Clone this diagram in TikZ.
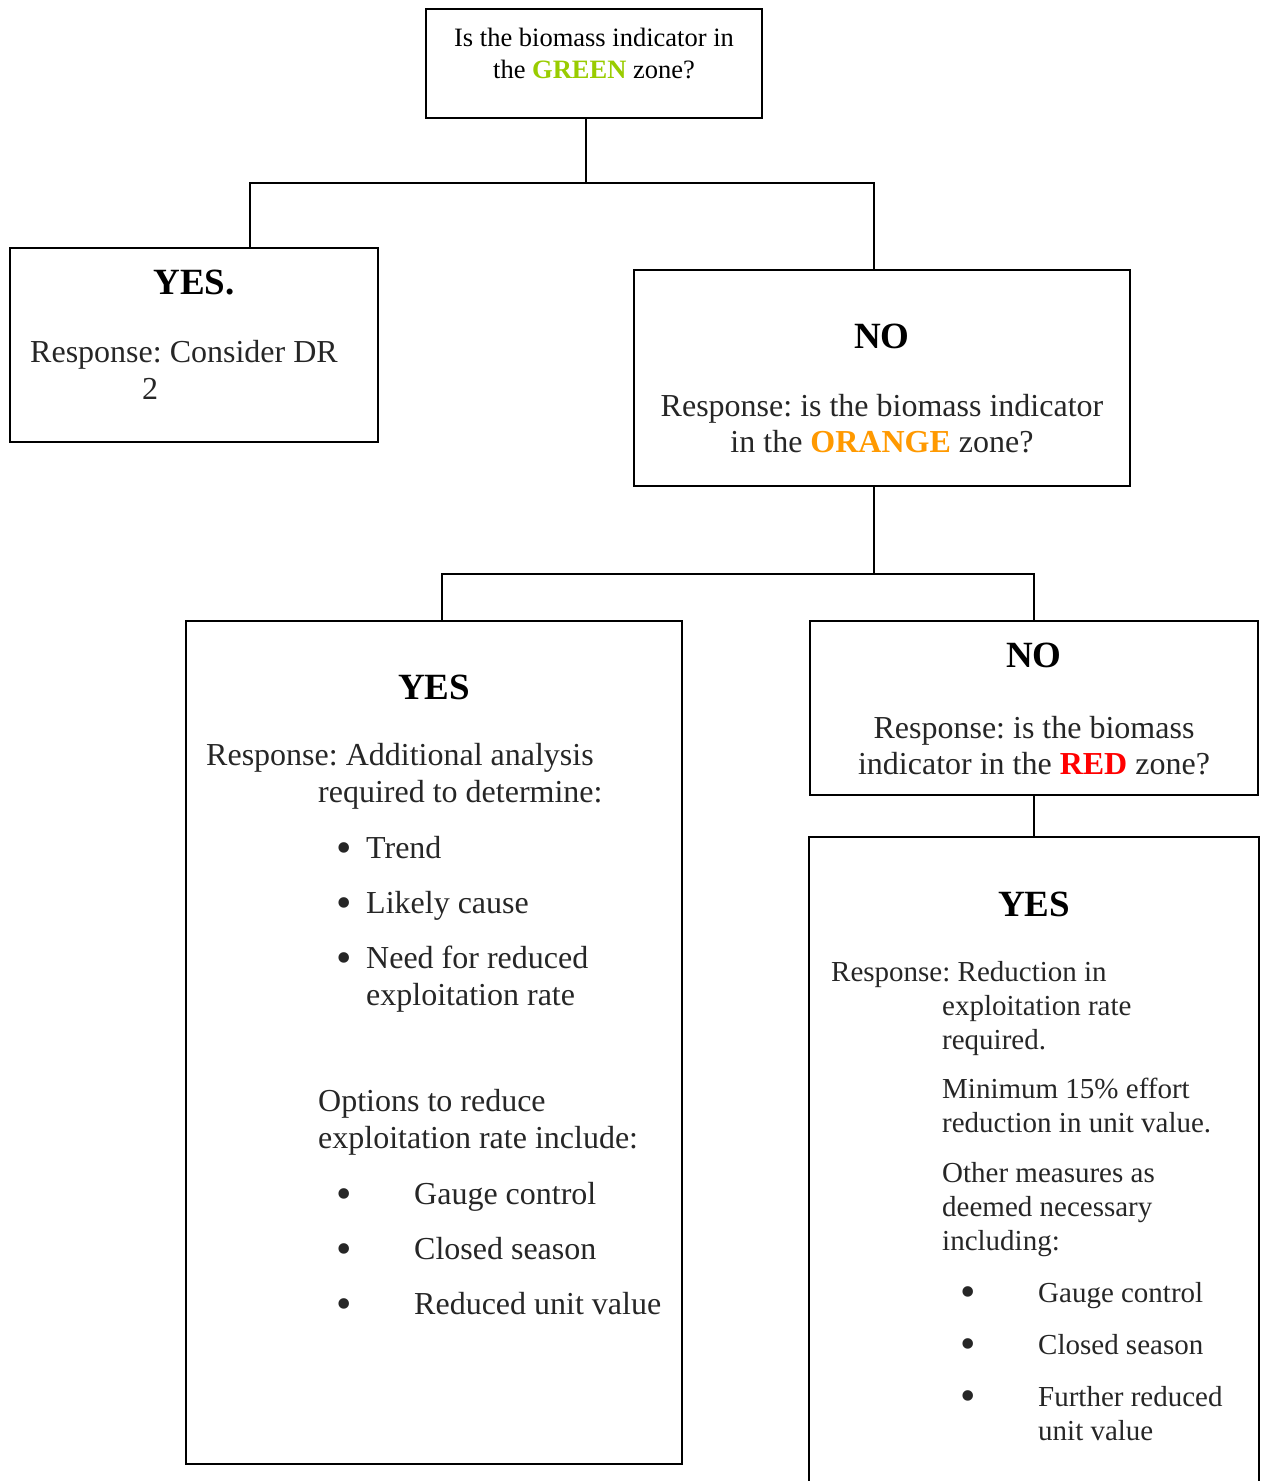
\documentclass[tikz,border=0pt]{standalone}
\usepackage{fontspec}
\setmainfont{Liberation Serif}
\usepackage{xcolor}
\usetikzlibrary{positioning,calc}
\definecolor{ink}{HTML}{000000}
\definecolor{bodyink}{HTML}{262626}
\definecolor{zonegreen}{HTML}{99CC00}
\definecolor{zoneorange}{HTML}{FF9900}
\definecolor{zonered}{HTML}{FF0000}
\tikzset{
  box/.style={draw=ink,line width=2pt,inner sep=0pt},
  topbox/.style={box,line width=2.6pt},
  headtxt/.style={font=\bfseries\fontsize{37}{44}\selectfont,color=ink,
                  inner sep=0pt,anchor=base},
  asktxt/.style={font=\fontsize{26.5}{32}\selectfont,color=ink,
                 inner sep=0pt,anchor=base},
  bodytxt/.style={font=\fontsize{32}{37}\selectfont,color=bodyink,
                  inner sep=0pt},
  smalltxt/.style={font=\fontsize{29}{34}\selectfont,color=bodyink,
                   inner sep=0pt},
  link/.style={draw=ink,line width=2pt}
}
\newcommand{\blt}{\raisebox{-4pt}{\fontsize{44}{44}\selectfont\textbullet}}
\frenchspacing

\begin{document}
\begin{tikzpicture}[x=1pt,y=-1pt]
    \useasboundingbox (0,0) rectangle (1264,1481);
    % boxes
    \node[topbox,minimum width=336pt,minimum height=109pt] (q1) at (594,63.5) {};
    \node[box,minimum width=368pt,minimum height=194pt] (yes1) at (194,345) {};
    \node[box,minimum width=496pt,minimum height=216pt] (no1) at (882,378) {};
    \node[box,minimum width=496pt,minimum height=843pt] (yes2) at (434,1042.5) {};
    \node[box,minimum width=448pt,minimum height=174pt] (no2) at (1034,708) {};
    \node[box,draw=none,minimum width=448pt,minimum height=652pt] (yes3) at (1034,1164) {};
    \draw[box] (yes3.south west) -- (yes3.north west) -- (yes3.north east)
      -- (yes3.south east);
    % texts (multi-line nodes sit on their last line)
    \node[asktxt] (q1a) at (594,46) {Is the biomass indicator in};
    \node[asktxt] (q1b) at (594,78) {the \textcolor{zonegreen}{\textbf{GREEN}} zone?};
    \node[headtxt] (yes1h) at (194,294) {YES.};
    \node[bodytxt,anchor=base west,align=left] (yes1t) at (30,399)
      {Response: Consider DR\\\hspace*{112pt}2};
    \node[headtxt] (no1h) at (882,348) {NO};
    \node[bodytxt,anchor=base] (no1a) at (882,416) {Response: is the biomass indicator};
    \node[bodytxt,anchor=base] (no1b) at (882,452)
      {in the \textcolor{zoneorange}{\textbf{ORANGE}} zone?};
    \node[headtxt] (yes2h) at (434,699) {YES};
    \node[bodytxt,anchor=base west,align=left] (yes2t) at (206,1314)
      {Response: Additional analysis\\
       \hspace*{112pt}required to determine:\\[19pt]
       \hspace*{130pt}\makebox[30pt][l]{\blt}Trend\\[18pt]
       \hspace*{130pt}\makebox[30pt][l]{\blt}Likely cause\\[18pt]
       \hspace*{130pt}\makebox[30pt][l]{\blt}Need for reduced\\
       \hspace*{160pt}exploitation rate\\[69pt]
       \hspace*{112pt}Options to reduce\\
       \hspace*{112pt}exploitation rate include:\\[19pt]
       \hspace*{130pt}\makebox[78pt][l]{\blt}Gauge control\\[18pt]
       \hspace*{130pt}\makebox[78pt][l]{\blt}Closed season\\[18pt]
       \hspace*{130pt}\makebox[78pt][l]{\blt}Reduced unit value};
    \node[headtxt] (no2h) at (1034,667) {NO};
    \node[bodytxt,anchor=base] (no2a) at (1034,738) {Response: is the biomass};
    \node[bodytxt,anchor=base] (no2b) at (1034,774)
      {indicator in the \textcolor{zonered}{\textbf{RED}} zone?};
    \node[headtxt] (yes3h) at (1034,916) {YES};
    \node[smalltxt,anchor=base west,align=left] (yes3t) at (831,1440)
      {Response: Reduction in\\
       \hspace*{111pt}exploitation rate\\
       \hspace*{111pt}required.\\[15pt]
       \hspace*{111pt}Minimum 15\% effort\\
       \hspace*{111pt}reduction in unit value.\\[16pt]
       \hspace*{111pt}Other measures as\\
       \hspace*{111pt}deemed necessary\\
       \hspace*{111pt}including:\\[18pt]
       \hspace*{129pt}\makebox[78pt][l]{\blt}Gauge control\\[18pt]
       \hspace*{129pt}\makebox[78pt][l]{\blt}Closed season\\[18pt]
       \hspace*{129pt}\makebox[78pt][l]{\blt}Further reduced\\
       \hspace*{207pt}unit value};
    % connectors
    \coordinate (fork1) at (586,183);
    \draw[link] ([xshift=-8pt]q1.south) -- (fork1);
    \draw[link] ([xshift=56pt]yes1.north) |- (fork1) -| ([xshift=-8pt]no1.north);
    \coordinate (fork2) at (874,574);
    \draw[link] ([xshift=-8pt]no1.south) -- (fork2);
    \draw[link] ([xshift=8pt]yes2.north) |- (fork2) -| (no2.north);
    \draw[link] (no2.south) -- (yes3.north);
\end{tikzpicture}
\end{document}
